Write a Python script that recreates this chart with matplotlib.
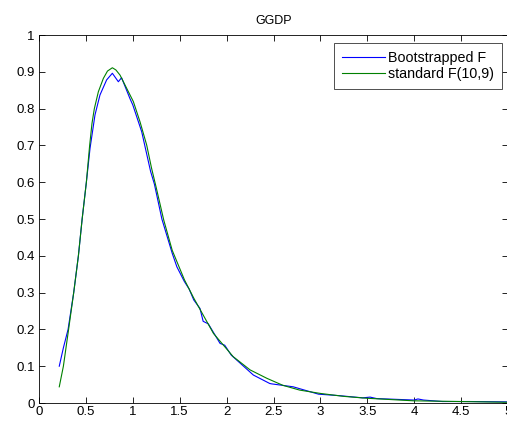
import matplotlib.pyplot as plt

plt.rcParams['font.family'] = ['Liberation Sans', 'DejaVu Sans']

# curva bootstrap
x_boot = [0.216, 0.26, 0.31, 0.37, 0.42, 0.46, 0.505, 0.544, 0.597, 0.65, 0.721,
          0.782, 0.846, 0.88, 0.97, 1.00, 1.095, 1.19, 1.23, 1.31, 1.42, 1.47,
          1.55, 1.60, 1.65, 1.716, 1.75, 1.805, 1.93, 1.98, 2.05, 2.285, 2.46,
          2.48, 2.71, 2.98, 3.2, 3.45, 3.53, 3.6, 4.0, 4.04, 4.1, 4.3, 4.6, 5.0]
y_boot = [0.10, 0.15, 0.20, 0.30, 0.40, 0.50, 0.60, 0.692, 0.783, 0.837, 0.878,
          0.896, 0.873, 0.884, 0.827, 0.81, 0.737, 0.629, 0.595, 0.50, 0.407, 0.37,
          0.33, 0.31, 0.28, 0.257, 0.222, 0.215, 0.162, 0.157, 0.13, 0.076, 0.053,
          0.052, 0.044, 0.024, 0.020, 0.014, 0.016, 0.012, 0.008, 0.011, 0.008,
          0.004, 0.004, 0.003]

# F(10,9) padrao
x_f = [0.216, 0.26, 0.31, 0.37, 0.42, 0.46, 0.505, 0.54, 0.565, 0.59, 0.633,
       0.686, 0.73, 0.782, 0.82, 0.864, 0.935, 1.006, 1.077, 1.148, 1.20, 1.25,
       1.33, 1.42, 1.55, 1.65, 1.77, 1.86, 2.07, 2.25, 2.43, 2.6, 2.78, 3.0,
       3.25, 3.49, 3.99, 4.49, 4.99]
y_f = [0.044, 0.10, 0.19, 0.30, 0.40, 0.50, 0.60, 0.70, 0.76, 0.80, 0.846,
       0.882, 0.902, 0.911, 0.905, 0.891, 0.855, 0.819, 0.764, 0.701, 0.638, 0.585,
       0.497, 0.415, 0.335, 0.285, 0.23, 0.189, 0.126, 0.09, 0.067, 0.048, 0.035,
       0.026, 0.018, 0.013, 0.006, 0.004, 0.002]

fig = plt.figure(figsize=(5.07, 4.22), dpi=100)
ax = fig.add_axes([39 / 507, 19 / 422, 469 / 507, 368 / 422])

ax.plot(x_boot, y_boot, color=(0, 0, 1), lw=0.8, label='Bootstrapped F')
ax.plot(x_f, y_f, color=(0, 0.5, 0), lw=0.8, label='standard F(10,9)')

ax.set_xlim(0, 5)
ax.set_ylim(0, 1)
ax.set_xticks([0, 0.5, 1, 1.5, 2, 2.5, 3, 3.5, 4, 4.5, 5])
ax.set_xticklabels(['0', '0.5', '1', '1.5', '2', '2.5', '3', '3.5', '4', '4.5', '5'])
ax.set_yticks([i / 10 for i in range(11)])
ax.set_yticklabels(['0', '0.1', '0.2', '0.3', '0.4', '0.5', '0.6', '0.7', '0.8', '0.9', '1'])
ax.tick_params(direction='in', length=4, width=0.6, labelsize=9.5,
               top=True, right=True, pad=3)
ax.tick_params(axis='x', pad=2)
for s in ax.spines.values():
    s.set_linewidth(0.6)
ax.set_title('GGDP', fontsize=9, pad=8)

leg = ax.legend(loc='upper right', bbox_to_anchor=(0.987, 0.979), fontsize=10.3,
                frameon=True, fancybox=False, edgecolor='black',
                handlelength=3.0, handletextpad=0.2, borderpad=0.55,
                labelspacing=0.15, borderaxespad=0)
leg.get_frame().set_linewidth(0.6)

fig.savefig('out.png', dpi=100)
